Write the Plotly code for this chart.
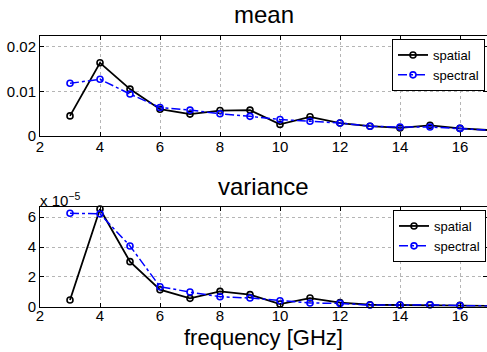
import plotly.graph_objects as go

freq = [3, 4, 5, 6, 7, 8, 9, 10, 11, 12, 13, 14, 15, 16, 17]

mean_spatial = [0.0045, 0.0164, 0.0105, 0.0060, 0.0049, 0.0057, 0.0058, 0.0026,
                0.0043, 0.0029, 0.0022, 0.0018, 0.0024, 0.0017, 0.0013]
mean_spectral = [0.0118, 0.0127, 0.0094, 0.0064, 0.0058, 0.0050, 0.0044, 0.0037,
                 0.0033, 0.0029, 0.0022, 0.0020, 0.0020, 0.0017, 0.0013]

# variance in units of 1e-5
var_spatial = [0.45, 6.55, 3.02, 1.14, 0.56, 1.03, 0.81, 0.18,
               0.58, 0.27, 0.13, 0.11, 0.13, 0.09, 0.05]
var_spectral = [6.26, 6.22, 4.07, 1.34, 0.98, 0.67, 0.58, 0.40,
                0.25, 0.22, 0.11, 0.11, 0.13, 0.07, 0.05]

x_ticks = [2, 4, 6, 8, 10, 12, 14, 16]
mean_ticks = [0, 0.01, 0.02]
mean_ticklabels = ["0", "0.01", "0.02"]
var_ticks = [0, 2, 4, 6]

W, H = 487, 352
FONT = "Liberation Sans, Arial, Helvetica, sans-serif"

def py(p):
    return 1 - p / H

def px(p):
    return p / W

fig = go.Figure()

spatial_style = dict(mode="lines+markers", line=dict(color="black", width=1.8),
                     marker=dict(symbol="circle-open", size=6, color="black",
                                 line=dict(width=1.6)), cliponaxis=False)
spectral_style = dict(mode="lines+markers",
                      line=dict(color="#0000ff", width=1.5, dash="dashdot"),
                      marker=dict(symbol="circle-open", size=6, color="#0000ff",
                                  line=dict(width=1.6)), cliponaxis=False)

fig.add_trace(go.Scatter(x=freq, y=mean_spatial, name="spatial", xaxis="x", yaxis="y",
                         legend="legend", **spatial_style))
fig.add_trace(go.Scatter(x=freq, y=mean_spectral, name="spectral", xaxis="x", yaxis="y",
                         legend="legend", **spectral_style))
fig.add_trace(go.Scatter(x=freq, y=var_spatial, name="spatial", xaxis="x2", yaxis="y2",
                         legend="legend2", **spatial_style))
fig.add_trace(go.Scatter(x=freq, y=var_spectral, name="spectral", xaxis="x2", yaxis="y2",
                         legend="legend2", **spectral_style))

axis_common = dict(showline=True, linecolor="black", linewidth=1, mirror="ticks",
                   ticks="inside", ticklen=4, tickcolor="black",
                   showgrid=True, gridcolor="#b5b5b5", griddash="dot", gridwidth=1,
                   zeroline=False, tickfont=dict(family=FONT, size=15, color="black"),
                   automargin=False)

xdom = [px(40), 1.0]
fig.update_layout(
    width=W, height=H,
    margin=dict(l=0, r=0, t=0, b=0),
    paper_bgcolor="white", plot_bgcolor="white",
    font=dict(family=FONT, color="black"),
    xaxis=dict(domain=xdom, range=[2, 16.9], tickvals=x_ticks, anchor="y",
               ticklabelstandoff=-3, **axis_common),
    yaxis=dict(domain=[py(136), py(36)], range=[0, 0.0224], tickvals=mean_ticks,
               ticktext=mean_ticklabels, anchor="x", **axis_common),
    xaxis2=dict(domain=xdom, range=[2, 16.9], tickvals=x_ticks, anchor="y2",
                ticklabelstandoff=-5, **axis_common),
    yaxis2=dict(domain=[py(306.7), py(206.7)], range=[0, 6.7], tickvals=var_ticks,
                anchor="x2", **axis_common),
    legend=dict(x=px(485), y=py(39), xanchor="right", yanchor="top",
                bordercolor="black", borderwidth=1, bgcolor="white",
                font=dict(family=FONT, size=13), itemwidth=30, tracegroupgap=0),
    legend2=dict(x=px(486), y=py(210), xanchor="right", yanchor="top",
                 bordercolor="black", borderwidth=1, bgcolor="white",
                 font=dict(family=FONT, size=13), itemwidth=30, tracegroupgap=0),
    showlegend=True,
)

fig.add_annotation(text="mean", x=px(263.5), y=py(14), xref="paper", yref="paper",
                   xanchor="center", yanchor="middle", showarrow=False,
                   font=dict(family=FONT, size=24, color="black"))
fig.add_annotation(text="variance", x=px(263.5), y=py(186), xref="paper", yref="paper",
                   xanchor="center", yanchor="middle", showarrow=False,
                   font=dict(family=FONT, size=24, color="black"))
fig.add_annotation(text="frequency [GHz]", x=px(263), y=py(337), xref="paper", yref="paper",
                   xanchor="center", yanchor="middle", showarrow=False,
                   font=dict(family=FONT, size=22, color="black"))
fig.add_annotation(text="x 10<sup>−5</sup>", x=px(38), y=py(211), xref="paper", yref="paper",
                   xanchor="left", yanchor="bottom", showarrow=False,
                   font=dict(family=FONT, size=15, color="black"))

fig.write_html("out.html")
